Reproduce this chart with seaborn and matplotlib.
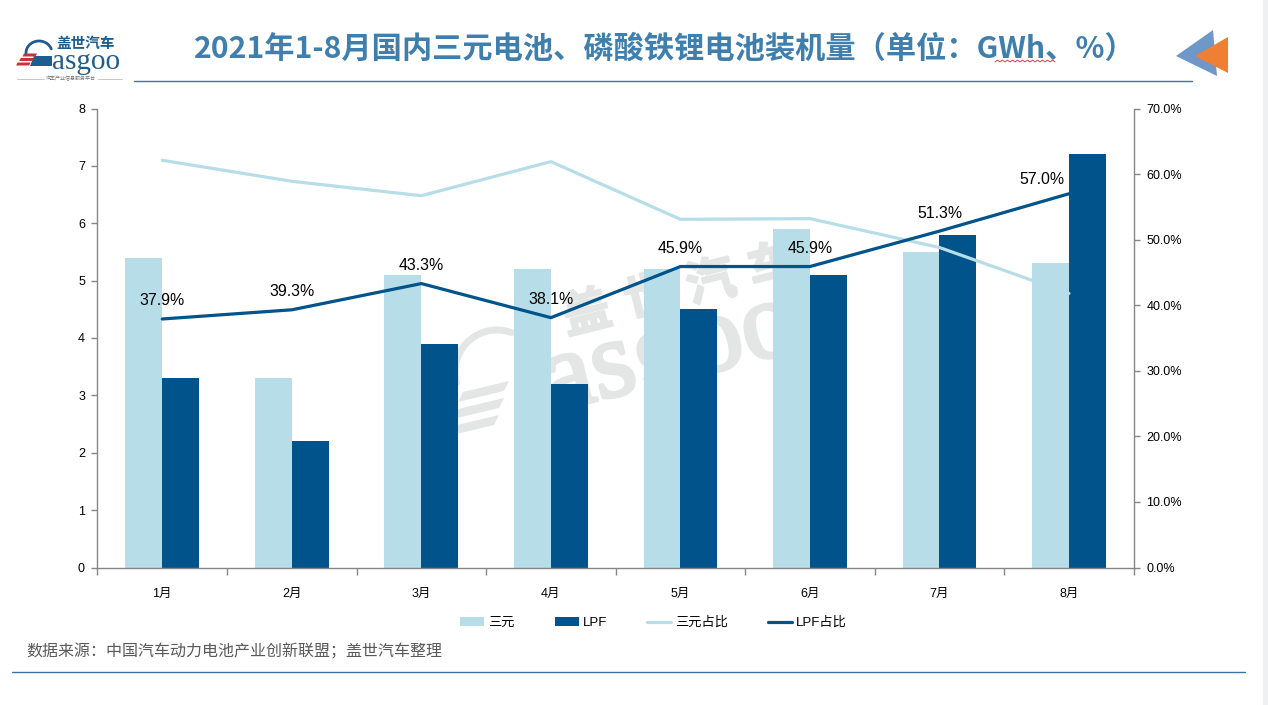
import numpy as np
import pandas as pd
import matplotlib
matplotlib.use("Agg")
import matplotlib.pyplot as plt
import matplotlib.patheffects as pe
from matplotlib.patches import Polygon, Rectangle
from matplotlib.lines import Line2D
import seaborn as sns

months = ["1月", "2月", "3月", "4月", "5月", "6月", "7月", "8月"]
ternary = [5.4, 3.3, 5.1, 5.2, 5.2, 5.9, 5.5, 5.3]
lfp = [3.3, 2.2, 3.9, 3.2, 4.5, 5.1, 5.8, 7.2]
ternary_share = [62.1, 58.9, 56.7, 61.9, 53.1, 53.2, 48.8, 41.8]
lfp_share = [37.9, 39.3, 43.3, 38.1, 45.9, 45.9, 51.3, 57.0]
lfp_labels = ["37.9%", "39.3%", "43.3%", "38.1%", "45.9%", "45.9%", "51.3%", "57.0%"]
label_dx = [0, 0, 0, 0, 0, 0, 0, -19.5]
title = "2021年1-8月国内三元电池、磷酸铁锂电池装机量（单位：GWh、%）"
source = "数据来源：中国汽车动力电池产业创新联盟；盖世汽车整理"

LIGHT, DARK = "#b7dde8", "#00538b"
W, H = 1268, 705
sns.set_theme(style="white")
plt.rcParams["font.family"] = ["Liberation Sans", "Noto Sans CJK SC", "DejaVu Sans"]
CJK = ["Noto Sans CJK SC", "DejaVu Sans"]
GRAY = "#868686"
WM = "#e4e6e6"

fig = plt.figure(figsize=(W / 100, H / 100), dpi=100, facecolor="white")
def fx(x): return x / W
def fy(y): return 1 - y / H
def ftext(x, y, s, **kw):
    return fig.text(fx(x), fy(y), s, **kw)
def fpoly(pts, **kw):
    fig.add_artist(Polygon([(fx(a), fy(b)) for a, b in pts], closed=True,
                           transform=fig.transFigure, lw=0, **kw))
def fline(xs, ys, **kw):
    fig.add_artist(Line2D([fx(a) for a in xs], [fy(b) for b in ys],
                          transform=fig.transFigure, **kw))

# right-hand page edge
fig.add_artist(Rectangle((fx(1263), 0), 5 / W, 1, transform=fig.transFigure,
                         color="#eef0f1", lw=0))

# watermark, behind the axes
ftext(551, 412, "asgoo", fontsize=80, rotation=14, rotation_mode="anchor",
      family="Liberation Serif", color=WM, ha="left", va="baseline", zorder=-1,
      path_effects=[pe.withStroke(linewidth=2.5, foreground=WM)])
for i, ch in enumerate("盖世汽车"):
    ftext(587 + 62 * i, 314 - 15.5 * i, ch, fontsize=35, rotation=14, family=CJK,
          fontweight="bold", color=WM, ha="center", va="center", zorder=-1,
          path_effects=[pe.withStroke(linewidth=1.5, foreground=WM)])
arc = np.deg2rad(np.arange(70, 196, 5))
fline(497 + 42 * np.cos(arc), 372 - 42 * np.sin(arc), color=WM, lw=5, zorder=-1)
for k in range(3):
    x0, y0 = 463 - 5 * k, 392 + 17 * k
    fpoly([(x0, y0), (x0 + 46, y0 - 11), (x0 + 41, y0 - 1), (x0 - 5, y0 + 10)],
          facecolor=WM, zorder=-1)

ax = fig.add_axes([fx(97.5), fy(567.5), (1133.8 - 97.5) / W, (567.5 - 108.5) / H])
ax.patch.set_alpha(0)

bars = pd.DataFrame({
    "month": months * 2,
    "value": ternary + lfp,
    "series": ["三元"] * 8 + ["LPF"] * 8,
})
sns.barplot(data=bars, x="month", y="value", hue="series", ax=ax, width=0.57, gap=0,
            palette={"三元": LIGHT, "LPF": DARK}, saturation=1, legend=False, zorder=2,
            linewidth=0)
ax.set_xlim(-0.5, 7.5)
ax.set_ylim(0, 8)
ax.set_yticks(range(0, 9))
ax.set_xlabel("")
ax.set_ylabel("")
ax.set_xticks(np.arange(-0.5, 8, 1), minor=True)
ax.tick_params(axis="x", which="major", length=0, pad=15, labelsize=9, labelcolor="black")
ax.tick_params(axis="x", which="minor", length=5, width=1, color=GRAY, bottom=True)
ax.tick_params(axis="y", length=4, width=1, color=GRAY, left=True, pad=5,
               labelsize=9, labelcolor="black")
for s in ("top", "right"):
    ax.spines[s].set_visible(False)
for s in ("left", "bottom"):
    ax.spines[s].set_color(GRAY)
    ax.spines[s].set_linewidth(1)

ax2 = ax.twinx()
ax2.patch.set_alpha(0)
lines = pd.DataFrame({
    "month": months * 2,
    "share": ternary_share + lfp_share,
    "series": ["三元占比"] * 8 + ["LPF占比"] * 8,
})
sns.lineplot(data=lines, x="month", y="share", hue="series", ax=ax2, sort=False,
             palette={"三元占比": LIGHT, "LPF占比": DARK}, lw=2.3, legend=False)
ax2.set_xlim(-0.5, 7.5)
ax2.set_ylim(0, 70)
ax2.set_yticks(np.arange(0, 71, 10))
ax2.set_yticklabels([f"{v:.1f}%" for v in np.arange(0, 71, 10)])
ax2.set_xlabel("")
ax2.set_ylabel("")
ax2.tick_params(axis="y", length=4, width=1, color=GRAY, right=True, pad=5,
                labelsize=9, labelcolor="black")
for s in ("top", "left", "bottom"):
    ax2.spines[s].set_visible(False)
ax2.spines["right"].set_color(GRAY)
ax2.spines["right"].set_linewidth(1)

for i, (v, t, dx) in enumerate(zip(lfp_share, lfp_labels, label_dx)):
    up = 10 if dx else 13
    ax2.annotate(t, (i, v), xytext=(dx, up), textcoords="offset points",
                 ha="center", va="center", fontsize=11.4, color="black")

# legend
handles = [Rectangle((0, 0), 1, 1, color=LIGHT, lw=0), Rectangle((0, 0), 1, 1, color=DARK, lw=0),
           Line2D([], [], color=LIGHT, lw=2.3), Line2D([], [], color=DARK, lw=2.3)]
fig.legend(handles, ["三元", "LPF", "三元占比", "LPF占比"], ncols=4, frameon=False,
           loc="center left", bbox_to_anchor=(fx(448), fy(623)), fontsize=9.5,
           handlelength=1.82, handleheight=0.7, handletextpad=0.3, columnspacing=3.05,
           labelcolor="black")

# header and footer
ftext(664.5, 49, title, fontsize=21.75, fontweight="bold", family=CJK, color="#3f7fae",
      ha="center", va="center")
fline([134, 1192], [80.5, 80.5], color="#2f7ab5", lw=1)
fline([12, 1245], [671.5, 671.5], color="#3d72a0", lw=1)
ftext(26.5, 652, source, fontsize=11.5, family=CJK, color="#595959", va="center")
zig_x = np.arange(995, 1056, 2.5)
fline(zig_x, 61 + 0.9 * (-1.0) ** np.arange(len(zig_x)), color="#e04040", lw=0.7)

# triangles
fpoly([(1176, 56), (1213, 30), (1217, 76)], facecolor="#6f97c8")
fpoly([(1195, 56), (1228, 37), (1228, 73)], facecolor="#ee7f33")

# logo
ftext(86, 43, "盖世汽车", fontsize=10.5, family=CJK, fontweight="bold", color="#1f5d8f",
      ha="center", va="center")
ftext(52, 69, "asgoo", fontsize=21, family="Liberation Serif", color="#1f5d8f",
      ha="left", va="baseline")
logo_arc = np.deg2rad(np.arange(20, 185, 5))
fline(39 + 13 * np.cos(logo_arc), 53 - 12 * np.sin(logo_arc), color="#1f5d8f", lw=2)
fpoly([(34, 56), (52, 56), (52, 66), (30, 66)], facecolor="#1f5d8f")
for k in range(3):
    x0, y0 = 24 - 3.2 * k, 53.5 + 4.5 * k
    fpoly([(x0, y0), (x0 + 13, y0), (x0 + 11.5, y0 + 3), (x0 - 1.5, y0 + 3)], facecolor="#c8323a")
fline([17, 44], [78.5, 78.5], color="#c8c8c8", lw=0.7)
fline([98, 122], [78.5, 78.5], color="#c8c8c8", lw=0.7)
ftext(71, 78.5, "汽车产业信息服务平台", fontsize=3.6, family=CJK, color="#777777",
      ha="center", va="center")

fig.savefig("out.png", dpi=100)
